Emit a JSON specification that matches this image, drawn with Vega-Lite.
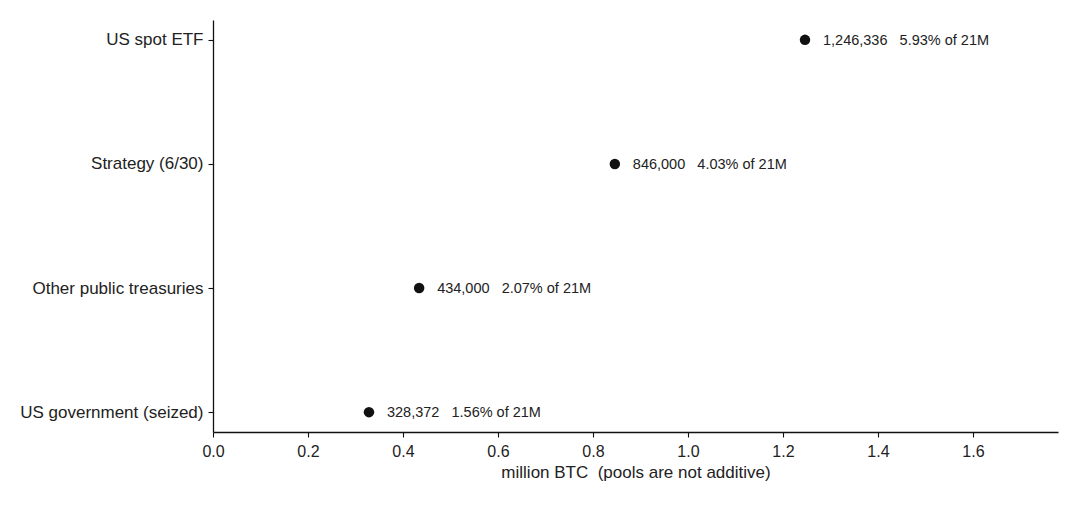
{
  "$schema": "https://vega.github.io/schema/vega-lite/v6.json",
  "autosize": "none",
  "width": 845,
  "height": 412,
  "padding": {"left": 213, "top": 20, "right": 22, "bottom": 74},
  "background": "white",
  "config": {
    "font": "Liberation Sans",
    "view": {"stroke": null}
  },
  "data": {
    "values": [
      {"pool": "US spot ETF", "btc": 1.246336, "note": "1,246,336\u00a0\u00a0\u00a05.93% of 21M"},
      {"pool": "Strategy (6/30)", "btc": 0.846, "note": "846,000\u00a0\u00a0\u00a04.03% of 21M"},
      {"pool": "Other public treasuries", "btc": 0.434, "note": "434,000\u00a0\u00a0\u00a02.07% of 21M"},
      {"pool": "US government (seized)", "btc": 0.328372, "note": "328,372\u00a0\u00a0\u00a01.56% of 21M"}
    ]
  },
  "encoding": {
    "y": {
      "field": "pool",
      "type": "nominal",
      "sort": null,
      "scale": {"type": "point", "padding": 0.16},
      "axis": {
        "title": null,
        "domainColor": "#111",
        "domainWidth": 1.3,
        "tickColor": "#111",
        "tickSize": 5,
        "tickWidth": 1.1,
        "labelFontSize": 17,
        "labelColor": "#222",
        "labelPadding": 5,
        "labelLimit": 400,
        "grid": false
      }
    },
    "x": {
      "field": "btc",
      "type": "quantitative",
      "scale": {"domain": [0, 1.779], "nice": false, "zero": true},
      "axis": {
        "title": "million BTC\u00a0\u00a0(pools are not additive)",
        "titleFontSize": 17,
        "titleFontWeight": "normal",
        "titleColor": "#222",
        "titlePadding": 5,
        "values": [0, 0.2, 0.4, 0.6, 0.8, 1.0, 1.2, 1.4, 1.6],
        "format": ".1f",
        "labelFlush": false,
        "domainColor": "#111",
        "domainWidth": 1.3,
        "tickColor": "#111",
        "tickSize": 5,
        "tickWidth": 1.1,
        "labelFontSize": 16,
        "labelColor": "#222",
        "labelPadding": 6,
        "grid": false
      }
    }
  },
  "layer": [
    {
      "mark": {"type": "point", "filled": true, "color": "#111", "size": 110, "opacity": 1}
    },
    {
      "mark": {"type": "text", "align": "left", "baseline": "middle", "dx": 18, "dy": 1, "fontSize": 14.5, "color": "#222"},
      "encoding": {"text": {"field": "note"}}
    }
  ]
}
